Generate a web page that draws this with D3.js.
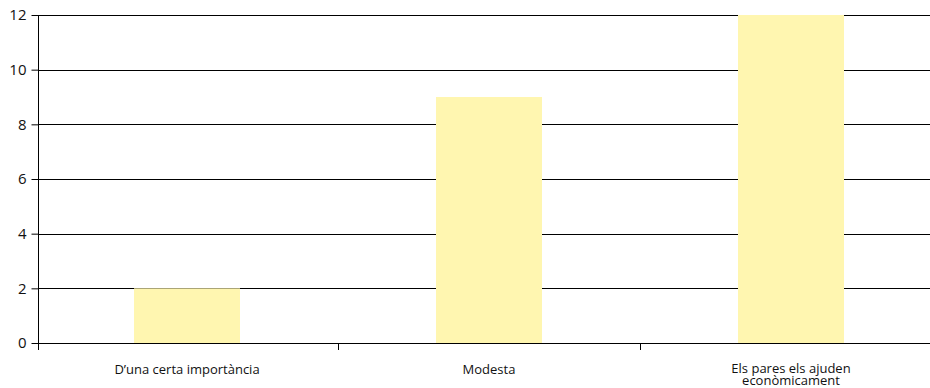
<!DOCTYPE html>
<html><head><meta charset="utf-8">
<script src="https://cdn.jsdelivr.net/npm/d3@7"></script>
<style>body{margin:0;background:#fff}svg{display:block}</style>
</head><body>
<script>
const categories = ["D\u2019una certa importància", "Modesta", "Els pares els ajuden|econòmicament"];
const values = [2, 9, 12];
const yTicks = [0, 2, 4, 6, 8, 10, 12];

const W = 930, H = 388;
const mLeft = 38, mTop = 15, mBottom = 343;
const svg = d3.select("body").append("svg").attr("width", W).attr("height", H);

const x = d3.scaleBand().domain(categories).range([36, 942]).padding(0);
const y = d3.scaleLinear().domain([0, 12]).range([mBottom, mTop]);
const font = "'Open Sans', Lato, sans-serif";

// gridlines
svg.append("g").selectAll("line").data(yTicks).join("line")
  .attr("x1", mLeft).attr("x2", W)
  .attr("y1", d => Math.round(y(d)) + 0.5).attr("y2", d => Math.round(y(d)) + 0.5)
  .attr("stroke", "#000").attr("stroke-width", 1);

// bars
const bw = x.bandwidth() * 0.351;
svg.append("g").selectAll("rect").data(values).join("rect")
  .attr("x", (d, i) => x(categories[i]) + x.bandwidth() / 2 - bw / 2)
  .attr("width", bw)
  .attr("y", d => y(d))
  .attr("height", d => y(0) - y(d))
  .attr("fill", "#FFF6B0");

// x axis line (baseline)
svg.append("line").attr("x1", mLeft).attr("x2", W)
  .attr("y1", Math.round(y(0)) + 0.5).attr("y2", Math.round(y(0)) + 0.5)
  .attr("stroke", "#000");

// y axis
const yAxis = d3.axisLeft(y).tickValues(yTicks).tickSize(7).tickPadding(5);
const gy = svg.append("g").attr("transform", `translate(${mLeft + 0.5},0)`).call(yAxis);
gy.select(".domain").remove();
gy.selectAll(".tick line").attr("stroke", "#000");
gy.selectAll(".tick text").attr("font-family", font).attr("font-size", 15).attr("fill", "#111");
svg.append("line").attr("x1", mLeft + 0.5).attr("x2", mLeft + 0.5)
  .attr("y1", mTop).attr("y2", mBottom + 7).attr("stroke", "#000");

// x ticks at band boundaries
const bounds = categories.slice(1).map(c => x(c));
svg.append("g").selectAll("line").data(bounds).join("line")
  .attr("x1", d => Math.round(d) + 0.5).attr("x2", d => Math.round(d) + 0.5)
  .attr("y1", mBottom).attr("y2", mBottom + 7).attr("stroke", "#000");

// x labels
const lab = svg.append("g").selectAll("text").data(categories).join("text")
  .attr("text-anchor", "middle")
  .attr("font-family", font).attr("font-size", 13).attr("fill", "#111")
  .attr("transform", d => `translate(${x(d) + x.bandwidth() / 2},0)`);
lab.each(function(d) {
  const lines = d.split("|");
  const t = d3.select(this);
  lines.forEach((l, i) => {
    t.append("tspan").attr("x", 0)
      .attr("y", lines.length === 1 ? 374 : 373 + i * 11.5)
      .text(l);
  });
});
</script>
</body></html>
